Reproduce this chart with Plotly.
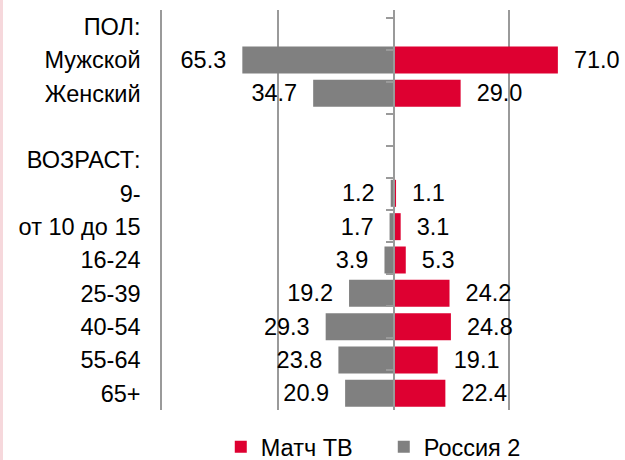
import plotly.graph_objects as go

categories = ["ПОЛ:", "Мужской", "Женский", " ", "ВОЗРАСТ:", "9-", "от 10 до 15",
              "16-24", "25-39", "40-54", "55-64", "65+"]
match_tv = [None, 71.0, 29.0, None, None, 1.1, 3.1, 5.3, 24.2, 24.8, 19.1, 22.4]
russia2 = [None, 65.3, 34.7, None, None, 1.2, 1.7, 3.9, 19.2, 29.3, 23.8, 20.9]
series_names = ["Матч ТВ", "Россия 2"]

RED = "#DE0031"
GRAY = "#808080"
LINE = "#9a9a9a"
FONT = "Liberation Sans, Arial, sans-serif"
FS = 23.5
NB = "\u00a0"

fig = go.Figure()

fig.add_trace(go.Bar(
    y=categories, x=match_tv, orientation="h", name=series_names[0],
    marker=dict(color=RED, line=dict(width=0)),
    text=[None if v is None else NB * 2 + f"{v:.1f}" for v in match_tv],
    textposition="outside", cliponaxis=False, constraintext="none",
    textfont=dict(family=FONT, size=FS, color="#000000"),
    hoverinfo="skip",
))
fig.add_trace(go.Bar(
    y=categories, x=[None if v is None else -v for v in russia2], orientation="h",
    name=series_names[1],
    marker=dict(color=GRAY, line=dict(width=0)),
    text=[None if v is None else f"{v:.1f}" + NB * 2 for v in russia2],
    textposition="outside", cliponaxis=False, constraintext="none",
    textfont=dict(family=FONT, size=FS, color="#000000"),
    hoverinfo="skip",
))
# invisible helper trace so the zero axis knows the categories
fig.add_trace(go.Scatter(
    y=categories, x=[0] * len(categories), yaxis="y2", mode="markers",
    marker=dict(opacity=0), showlegend=False, hoverinfo="skip",
))

fig.update_layout(
    width=625, height=460,
    margin=dict(l=162, r=0, t=10, b=50, autoexpand=False),
    paper_bgcolor="white", plot_bgcolor="white",
    barmode="relative", bargap=0.19,
    font=dict(family=FONT, size=FS, color="#000000"),
    xaxis=dict(range=[-100, 100], dtick=50, tick0=0, showgrid=True,
               gridcolor=LINE, gridwidth=1.5, zeroline=False, automargin=False,
               showticklabels=False, showline=False, fixedrange=True),
    yaxis=dict(type="category", categoryorder="array", categoryarray=categories,
               autorange="reversed", showgrid=False, zeroline=False, automargin=False,
               showline=True, linecolor=LINE, linewidth=1.5,
               ticks="outside", ticklen=15, tickcolor="rgba(0,0,0,0)",
               tickfont=dict(family=FONT, size=FS, color="#000000")),
    yaxis2=dict(type="category", categoryorder="array", categoryarray=categories,
                autorange="reversed", overlaying="y", anchor="free", position=0.5,
                side="left", showgrid=False, zeroline=False, showline=True,
                automargin=False,
                linecolor=LINE, linewidth=1.5, ticks="outside", ticklen=7,
                tickwidth=1.5, tickcolor=LINE, tickson="boundaries",
                showticklabels=False),
    legend=dict(orientation="h", x=0.479, xanchor="center", y=-0.0925,
                yanchor="middle", font=dict(family=FONT, size=FS, color="#000000"),
                itemwidth=30, entrywidth=118, traceorder="normal",
                bgcolor="rgba(0,0,0,0)"),
    showlegend=True,
    shapes=[dict(type="line", xref="paper", yref="paper",
                 x0=-160.5 / 463, x1=-160.5 / 463, y0=-0.125, y1=1.025,
                 line=dict(color="#f6d8dc", width=3))],
)

fig.write_html("out.html",
               config={"displayModeBar": False},
               post_script="document.body.style.margin='0';"
                           "document.body.style.overflow='hidden';")
